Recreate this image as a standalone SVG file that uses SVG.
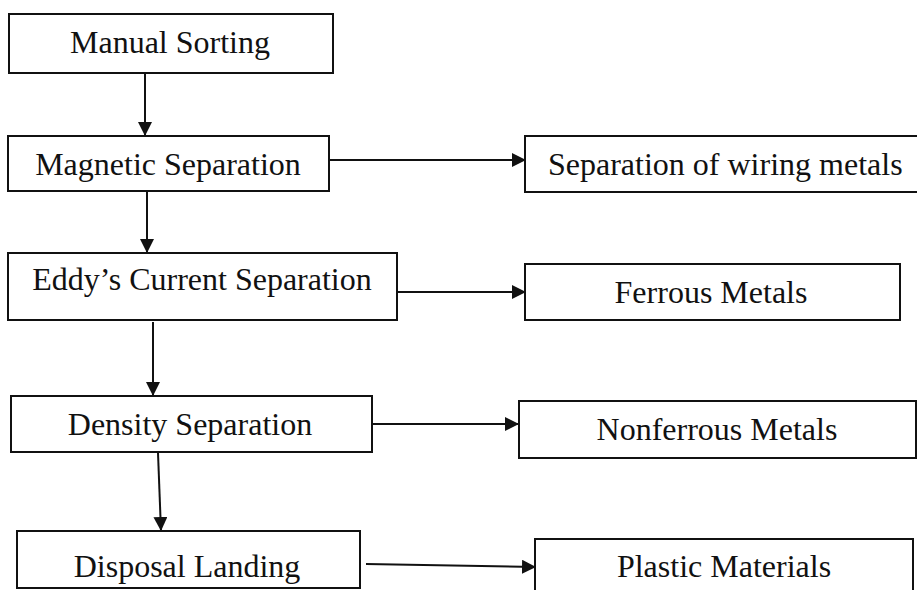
<svg xmlns="http://www.w3.org/2000/svg" width="917" height="590" viewBox="0 0 917 590">
<style>
.box{fill:#fff;stroke:#111;stroke-width:2}
.lbl{font-family:"Liberation Serif","Times New Roman",serif;font-size:32px;fill:#111}
.mid{text-anchor:middle}
.con{stroke:#111;stroke-width:2;fill:none}
</style>
<defs>
<marker id="ah" viewBox="0 0 14 14" refX="14" refY="7" markerWidth="14" markerHeight="14" markerUnits="userSpaceOnUse" orient="auto">
<path d="M0,0 L14,7 L0,14 Z" fill="#111"/>
</marker>
</defs>
<rect width="917" height="590" fill="#fff"/>
<g id="connectors">
<line class="con" x1="145" y1="74" x2="145" y2="136" marker-end="url(#ah)"/>
<line class="con" x1="147" y1="192" x2="147" y2="253" marker-end="url(#ah)"/>
<line class="con" x1="153" y1="322" x2="153" y2="396" marker-end="url(#ah)"/>
<line class="con" x1="158" y1="453" x2="161" y2="531" marker-end="url(#ah)"/>
<line class="con" x1="329" y1="160" x2="526" y2="160" marker-end="url(#ah)"/>
<line class="con" x1="397" y1="292" x2="526" y2="292" marker-end="url(#ah)"/>
<line class="con" x1="368" y1="424" x2="519" y2="424" marker-end="url(#ah)"/>
<line class="con" x1="366" y1="564" x2="536" y2="567" marker-end="url(#ah)"/>
</g>
<g id="manual-sorting">
<rect class="box" x="9" y="14" width="324" height="59"/>
<text class="lbl mid" x="170" y="53">Manual Sorting</text>
</g>
<g id="magnetic-separation">
<rect class="box" x="8" y="136" width="321" height="55"/>
<text class="lbl mid" x="168" y="175">Magnetic Separation</text>
</g>
<g id="eddy-current-separation">
<rect class="box" x="8" y="253" width="389" height="67"/>
<text class="lbl mid" x="202" y="290">Eddy’s Current Separation</text>
</g>
<g id="density-separation">
<rect class="box" x="11" y="396" width="361" height="56"/>
<text class="lbl mid" x="190" y="435">Density Separation</text>
</g>
<g id="disposal-landing">
<rect class="box" x="17" y="531" width="343" height="57"/>
<text class="lbl mid" x="187" y="577">Disposal Landing</text>
</g>
<g id="wiring-metals">
<rect class="box" x="525" y="136" width="400" height="56"/>
<text class="lbl" x="548" y="175">Separation of wiring metals</text>
</g>
<g id="ferrous-metals">
<rect class="box" x="525" y="264" width="375" height="56"/>
<text class="lbl mid" x="711" y="303">Ferrous Metals</text>
</g>
<g id="nonferrous-metals">
<rect class="box" x="519" y="401" width="397" height="57"/>
<text class="lbl mid" x="717" y="440">Nonferrous Metals</text>
</g>
<g id="plastic-materials">
<rect class="box" x="535" y="539" width="378" height="70"/>
<text class="lbl mid" x="724" y="577">Plastic Materials</text>
</g>
</svg>
